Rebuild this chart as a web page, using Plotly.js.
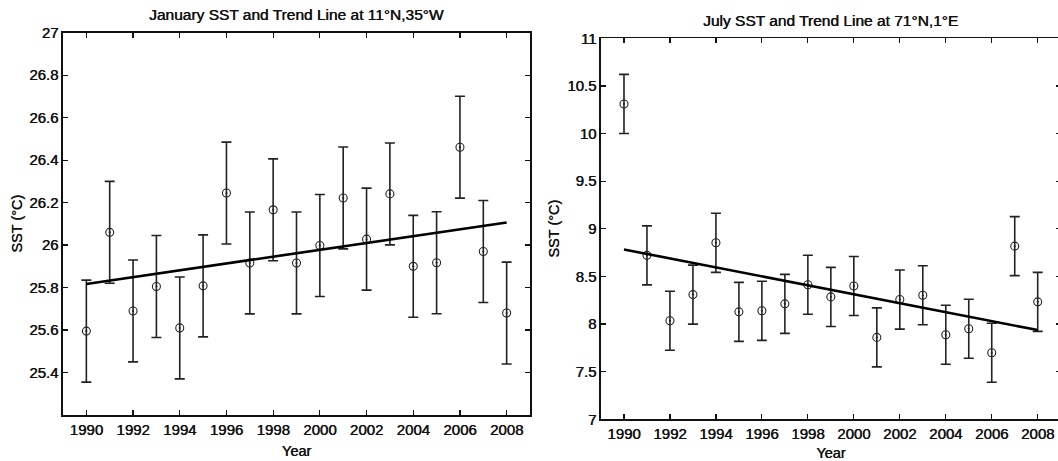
<!DOCTYPE html>
<html>
<head>
<meta charset="utf-8">
<script src="https://cdn.plot.ly/plotly-3.0.1.min.js"></script>
<style>
html, body { margin: 0; padding: 0; background: #fff; overflow: hidden; }
#chart { width: 1062px; height: 461px; }
</style>
</head>
<body>
<div id="chart"></div>
<script>
// ---- Data ----
const years = [1990,1991,1992,1993,1994,1995,1996,1997,1998,1999,2000,2001,2002,2003,2004,2005,2006,2007,2008];
const janSST = [25.595,26.06,25.69,25.805,25.61,25.808,26.245,25.916,26.166,25.916,25.998,26.222,26.028,26.241,25.90,25.917,26.461,25.97,25.68];
const janErr = [0.24,0.24,0.24,0.24,0.24,0.24,0.24,0.24,0.24,0.24,0.24,0.24,0.24,0.24,0.24,0.24,0.24,0.24,0.24];
const julSST = [10.311,8.721,8.035,8.309,8.853,8.128,8.139,8.212,8.413,8.285,8.399,7.860,8.257,8.302,7.888,7.951,7.699,8.818,8.233];
const julErr = [0.31,0.31,0.31,0.31,0.31,0.31,0.31,0.31,0.31,0.31,0.31,0.31,0.31,0.31,0.31,0.31,0.31,0.31,0.31];
const trendYears = [1990, 2008];
const janTrend = [25.817, 26.106];
const julTrend = [8.783, 7.937];
const xTickVals = [1990,1992,1994,1996,1998,2000,2002,2004,2006,2008];
const janTickVals = [25.4,25.6,25.8,26,26.2,26.4,26.6,26.8,27];
const janTickText = ['25.4','25.6','25.8','26','26.2','26.4','26.6','26.8','27'];
const julTickVals = [7,7.5,8,8.5,9,9.5,10,10.5,11];
const julTickText = ['7','7.5','8','8.5','9','9.5','10','10.5','11'];
const titleJan = 'January SST and Trend Line at 11°N,35°W';
const titleJul = 'July SST and Trend Line at 71°N,1°E';

// ---- Layout geometry (pixels) ----
const W = 1062, H = 461;
const FONT = 'Liberation Sans, Arial, Helvetica, sans-serif';
const ink = '#111';
const SHADOW = '0.45px 0 0 #111';

function f(size) { return { family: FONT, size: size, color: ink, shadow: SHADOW }; }

function pointTrace(x, y, err, xa, ya) {
  return {
    x: x, y: y, xaxis: xa, yaxis: ya, type: 'scatter', mode: 'markers',
    marker: { symbol: 'circle-dot', size: 8, color: 'rgba(0,0,0,0)', line: { color: '#222', width: 1.1 } },
    error_y: { type: 'data', array: err, visible: true, color: '#222', thickness: 1.6, width: 5 },
    showlegend: false, hoverinfo: 'x+y'
  };
}
function trendTrace(x, y, xa, ya) {
  return {
    x: x, y: y, xaxis: xa, yaxis: ya, type: 'scatter', mode: 'lines',
    line: { color: '#000', width: 2.6 }, showlegend: false, hoverinfo: 'skip'
  };
}

const data = [
  pointTrace(years, janSST, janErr, 'x', 'y'),
  trendTrace(trendYears, janTrend, 'x', 'y'),
  pointTrace(years, julSST, julErr, 'x2', 'y2'),
  trendTrace(trendYears, julTrend, 'x2', 'y2')
];

function xAxis(domain, anchor) {
  return {
    domain: domain, anchor: anchor, range: [1989, 2009],
    tickvals: xTickVals, ticktext: xTickVals.map(String),
    ticks: 'inside', ticklen: 5, tickwidth: 1.2, tickcolor: ink,
    showline: true, linecolor: ink, linewidth: 1.6, mirror: 'ticks',
    showgrid: false, zeroline: false,
    tickfont: f(15),
    title: { text: 'Year', font: f(14.5), standoff: 9 }
  };
}
function yAxis(domain, anchor, range, tv, tt, standoff) {
  return {
    domain: domain, anchor: anchor, range: range,
    tickvals: tv, ticktext: tt,
    ticks: 'inside', ticklen: 5, tickwidth: 1.2, tickcolor: ink,
    showline: true, linecolor: ink, linewidth: 1.6, mirror: 'ticks',
    showgrid: false, zeroline: false,
    tickfont: f(15),
    title: { text: 'SST (°C)', font: f(14.5), standoff: standoff }
  };
}

const layout = {
  width: W, height: H,
  margin: { l: 0, r: 0, t: 0, b: 0 },
  paper_bgcolor: '#fff', plot_bgcolor: '#fff',
  xaxis: xAxis([63 / W, 530 / W], 'y'),
  yaxis: yAxis([(H - 415) / H, (H - 32.7) / H], 'x', [25.2, 27], janTickVals, janTickText, 3),
  xaxis2: xAxis([601 / W, 1060.7 / W], 'y2'),
  yaxis2: yAxis([(H - 419.3) / H, (H - 38.3) / H], 'x2', [7, 11], julTickVals, julTickText, 4),
  annotations: [
    { text: titleJan, xref: 'paper', yref: 'paper', x: (63 + 530) / 2 / W, y: (H - 15) / H,
      xanchor: 'center', yanchor: 'middle', showarrow: false, font: f(15.5) },
    { text: titleJul, xref: 'paper', yref: 'paper', x: (601 + 1060.7) / 2 / W, y: (H - 20) / H,
      xanchor: 'center', yanchor: 'middle', showarrow: false, font: f(15.5) }
  ]
};

Plotly.newPlot('chart', data, layout, { displayModeBar: false, staticPlot: true });
</script>
</body>
</html>
